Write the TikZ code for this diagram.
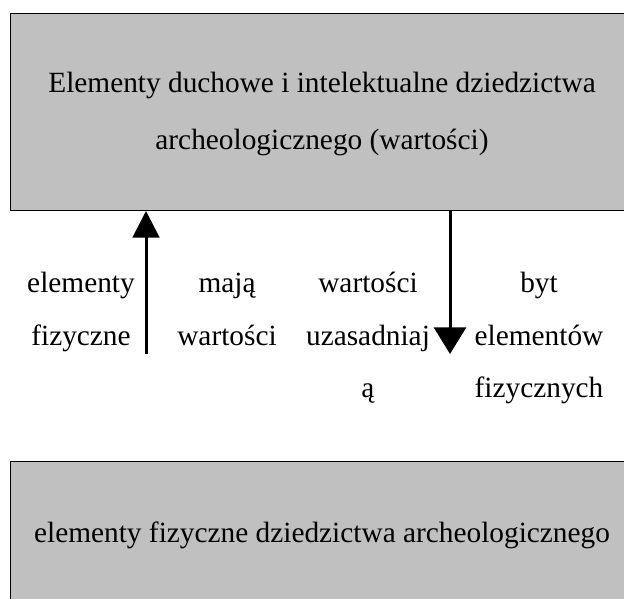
\documentclass[tikz,border=0pt]{standalone}
\usepackage{fontspec}
\setmainfont{Liberation Serif}
\usetikzlibrary{arrows.meta}
\definecolor{boxgray}{RGB}{192,192,192}
\begin{document}
\begin{tikzpicture}[x=0.75pt,y=-0.75pt,
  box/.style={draw=black, line width=0.75pt, fill=boxgray, inner sep=0pt, anchor=north west, minimum width=468pt},
  lbl/.style={font=\fontsize{22}{26}\selectfont, anchor=base, inner sep=0pt},
  conn/.style={line width=2.25pt}]
\useasboundingbox (0,0) rectangle (624,599);
% boxes
\node[box, minimum height=147.75pt] (top) at (10,13) {};
\node[box, minimum height=150pt] (bot) at (10,461) {};
% box texts
\node[lbl] (top1) at (322,93) {Elementy duchowe i intelektualne dziedzictwa};
\node[lbl] (top2) at (322,150) {archeologicznego (wartości)};
\node[lbl] (bot1) at (322,542) {elementy fizyczne dziedzictwa archeologicznego};
% middle texts
\node[lbl] (a1) at (81,292) {elementy};
\node[lbl] (a2) at (81,345) {fizyczne};
\node[lbl] (b1) at (227,292) {mają};
\node[lbl] (b2) at (227,345) {wartości};
\node[lbl] (c1) at (368,292) {wartości};
\node[lbl] (c2) at (368,345) {uzasadniaj};
\node[lbl] (c3) at (368,397) {ą};
\node[lbl] (d1) at (539,292) {byt};
\node[lbl] (d2) at (539,345) {elementów};
\node[lbl] (d3) at (539,397) {fizycznych};
% arrows
\coordinate (upstart) at (146,354);
\coordinate (downend) at (450,354);
\draw[conn, -{Triangle[width=20pt,length=20pt]}] (upstart) -- (upstart |- top.south);
\draw[conn, -{Triangle[width=24pt,length=20pt]}] (downend |- top.south) -- (downend);
\end{tikzpicture}
\end{document}
